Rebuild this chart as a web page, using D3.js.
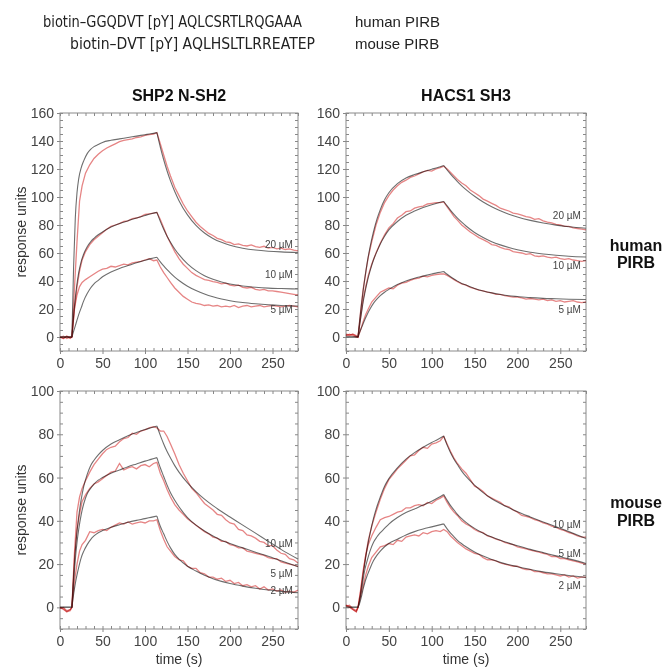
<!DOCTYPE html>
<html>
<head>
<meta charset="utf-8">
<script src="https://cdn.jsdelivr.net/npm/d3@7"></script>
<style>
  body { margin: 0; background: #fff; }
  svg { display: block; font-family: "Liberation Sans", Arial, sans-serif; }
</style>
</head>
<body>
<div id="chart"></div>
<script>
// sample times (s) for the fitted curves and for the measured traces
var fitTime = [0, 14, 16, 18, 20, 22, 25, 28, 32, 36, 40, 45, 50, 60, 70, 80, 90, 100, 107, 114,
  118, 122, 126, 130, 135, 140, 150, 160, 170, 180, 190, 200, 215, 230, 245, 260, 280];
var obsTime = [0, 4, 8, 12, 14, 17, 20, 23, 26, 30, 35, 40, 45, 50, 55, 60, 65, 70, 75, 80, 85, 90, 95,
  100, 105, 110, 114, 118, 122, 126, 130, 135, 140, 145, 150, 155, 160, 165, 170, 175, 180, 185, 190,
  195, 200, 205, 210, 215, 220, 225, 230, 235, 240, 245, 250, 255, 260, 265, 270, 275, 280];

// tick labels
var xTicks = [0, 50, 100, 150, 200, 250];
var yTicksTop = [0, 20, 40, 60, 80, 100, 120, 140, 160];
var yTicksBottom = [0, 20, 40, 60, 80, 100];

// SHP2 N-SH2 / human PIRB (20, 10, 5 uM)
var shp2HumanConc = ["20 µM", "10 µM", "5 µM"];
var shp2HumanLabelY = [66, 44.5, 20];
var shp2HumanFit20 = [0, 0, 50, 85, 103, 113, 121, 126, 131, 134, 136, 137.5, 139, 140.5, 141.5, 142.5, 143.5, 144.5, 145.2, 146,
  135.7, 126.6, 118.6, 111.5, 103.9, 97.4, 87.2, 79.7, 74.3, 70.4, 67.6, 65.5, 63.4, 62.1, 61.3, 60.8, 60.4];
var shp2HumanFit10 = [0, 0, 15, 28, 38, 46, 54, 59.5, 64.5, 68, 70.5, 73, 75, 78.5, 81, 83, 85, 86.8, 88, 89,
  82.6, 77, 72, 67.7, 62.9, 58.8, 52.2, 47.4, 43.8, 41.2, 39.3, 37.9, 36.4, 35.5, 34.9, 34.6, 34.3];
var shp2HumanFit5 = [0, 0, 4, 8, 12, 16, 21, 26, 31, 35, 38, 40.5, 43, 46.5, 49, 51, 53, 54.8, 56, 57,
  53.7, 50.8, 48.1, 45.6, 42.8, 40.4, 36.3, 33.2, 30.7, 28.7, 27.1, 25.9, 24.6, 23.7, 23, 22.5, 22.1];
var shp2HumanObs20 = [0, -1, 0.5, -1, 0, 35, 68, 97, 108, 117, 123, 127.5, 130.5, 133, 135, 136.5, 138, 139.5, 140.5, 141, 141.5,
  142.5, 143, 144, 144.5, 145, 146, 138, 130, 122, 115, 107, 101, 95, 90, 86, 82, 79, 76.5, 74, 72.5, 70.5, 69.5,
  68, 67.5, 66, 66.5, 65.5, 65, 65.8, 64.5, 64, 64.8, 63.5, 64, 63, 63.5, 62.5, 63, 62, 61.5];
var shp2HumanObs10 = [-0.5, 0.5, -1, 0, 0, 20, 36, 47, 55, 61, 66, 69.5, 72, 74.5, 77, 79, 80, 81, 82.5, 83, 84.5,
  85, 86, 87.5, 88, 88.5, 89, 84, 78, 72, 67, 61, 56, 52, 49, 46, 44, 42.5, 41, 40.5, 39.5, 39, 38,
  38.5, 37, 36.5, 37, 35.5, 35, 35.5, 34, 33.5, 34, 33, 33, 32.5, 32, 31.5, 31, 30.5, 30];
var shp2HumanObs5 = [0, -1, 0.5, -0.5, 0, 20, 30, 36, 39, 41, 43, 45, 47, 48.5, 49, 50.5, 50, 51, 52, 51.5, 53,
  53.5, 54, 55, 56, 54.5, 55, 50, 46, 42.5, 39, 35, 32, 29, 27, 25, 24, 23.5, 22.5, 23, 22, 22.5, 21.5,
  22, 21.5, 22.5, 21, 22, 22.5, 21.5, 22, 22.5, 21.5, 22, 22.5, 22, 21.5, 22, 22.5, 22, 21.5];

// HACS1 SH3 / human PIRB (20, 10, 5 uM)
var hacsHumanConc = ["20 µM", "10 µM", "5 µM"];
var hacsHumanLabelY = [86.8, 51, 20];
var hacsHumanFit20 = [0, 0, 12, 23, 33, 42, 54, 64, 75, 84, 91, 98, 103, 109.5, 113.5, 116, 118, 119.8, 121, 122.5,
  119.3, 116.4, 113.6, 111, 108, 105.3, 100.5, 96.4, 93, 90.2, 87.7, 85.7, 83.3, 81.4, 79.9, 78.8, 77.7];
var hacsHumanFit10 = [0, 0, 9, 17, 25, 31.5, 40, 47, 55, 61, 66.5, 72, 76.5, 82.5, 87, 90, 92.5, 94.5, 95.7, 96.8,
  93.6, 90.5, 87.6, 84.9, 82, 79.3, 74.7, 71.1, 68.1, 65.8, 63.9, 62.3, 60.5, 59.3, 58.4, 57.7, 57.1];
var hacsHumanFit5 = [0, 0, 3.5, 6.5, 9.5, 12.5, 16.5, 20, 24, 27, 29.5, 32, 34, 37.5, 40, 42, 43.5, 45, 46, 46.8,
  44.8, 43, 41.4, 39.9, 38.3, 37.1, 34.7, 32.9, 31.5, 30.4, 29.5, 28.9, 28.1, 27.6, 27.3, 27, 26.8];
var hacsHumanObs20 = [2, 1.5, 2, 1, 0, 18, 34, 46, 57, 68, 80, 89, 96, 101, 105, 108, 110.5, 112, 114, 115, 116.5,
  118, 119, 118.5, 120, 121, 122, 120, 117.5, 115, 112.5, 110, 108, 105, 103, 101, 98.5, 97, 95.5, 94, 92, 91, 90,
  88.5, 88, 87, 86, 85.5, 84, 84.5, 83, 82, 81.5, 80.5, 80, 79, 79, 78, 77.5, 77, 76.5];
var hacsHumanObs10 = [1.5, 1, 2, 0.5, 0, 14, 27, 36, 44, 52, 60, 67, 73, 78, 81, 85, 87, 89.5, 90, 92, 93,
  93.5, 95, 95.5, 96, 96, 96.5, 93, 89.5, 86, 83.5, 80, 77.5, 75, 73, 71, 69.5, 68, 66, 65.5, 64, 63, 62.5,
  61, 60.5, 60, 59, 59.5, 58, 57.5, 58, 57, 56.5, 57, 56, 55.5, 56, 55, 54.5, 54, 54.5];
var hacsHumanObs5 = [1, 2, 1, 0, 0, 5, 11, 16, 20, 25, 28.5, 32, 33.5, 35, 34.5, 37, 38.5, 39, 40.5, 41.5, 42,
  43.5, 43, 44, 44.5, 45, 45, 44, 42.5, 41, 39.5, 38, 37, 35.5, 34.5, 33.5, 33, 32, 31.5, 30.5, 30.5, 29.5, 29,
  28.5, 28.5, 28, 27, 27.5, 27, 26.5, 27, 26, 26.5, 25.5, 26, 25, 25.5, 26, 25, 24.5, 25];

// SHP2 N-SH2 / mouse PIRB (10, 5, 2 uM)
var shp2MouseConc = ["10 µM", "5 µM", "2 µM"];
var shp2MouseLabelY = [29.7, 15.8, 8];
var shp2MouseFit10 = [0, 0, 14, 26, 35, 42, 50, 56, 61.5, 65.5, 68, 70.5, 72.5, 75.5, 77.5, 79.3, 80.8, 82.2, 83, 83.8,
  79.5, 75.5, 72, 69, 65.5, 62.5, 57.5, 53.5, 50, 47, 44.3, 41.8, 38, 34.3, 30.5, 26.8, 22.3];
var shp2MouseFit5 = [0, 0, 12, 22, 30, 36, 43, 48, 52.5, 55, 57, 58.8, 60, 62, 63.5, 65, 66.3, 67.6, 68.4, 69.2,
  64.5, 60.5, 56.5, 53, 49.5, 46.5, 41.5, 38, 35.3, 33, 31, 29.5, 27.5, 25.5, 23.6, 21.5, 18.8];
var shp2MouseFit2 = [0, 0, 6, 11, 15, 18.5, 23, 26, 29, 31.3, 33, 34.5, 35.5, 37, 38.2, 39.3, 40.2, 41, 41.6, 42.2,
  37.5, 34, 30.5, 27.5, 24.5, 22.3, 19, 16.8, 14.8, 13.2, 12, 11, 9.8, 8.8, 8, 7.4, 6.8];
var shp2MouseObs10 = [0, -1, -2, -1, 0, 25, 44, 51, 55, 58.5, 62.5, 66, 68.5, 71, 73, 74, 74.5, 76.5, 78, 78.5, 80.5,
  80, 81.5, 82, 83, 83.5, 83, 81.5, 81.5, 79, 75.5, 71, 66, 62, 58.5, 55, 53, 50.5, 48, 46.5, 45, 43, 42.5,
  40.5, 39, 38.5, 36, 35.5, 33.5, 33, 32, 30.5, 30, 28.5, 28.5, 26.5, 25, 24.5, 22.5, 22, 20.5];
var shp2MouseObs5 = [-0.5, 0, -1.5, -1, 0, 22, 36, 43, 49, 52, 55, 57, 58, 59.5, 61, 62.5, 63, 66.5, 63.5, 64.5, 65,
  64, 65.5, 66, 65, 66.5, 67, 62, 58.5, 54.5, 51, 47.5, 45, 43, 41, 39.5, 38, 36.5, 35, 34, 32.5, 32, 30.5,
  30.5, 29, 28.5, 27.5, 27.5, 26, 25.5, 25, 24.5, 24, 23, 22.5, 22.5, 21, 20.5, 20, 19.5, 19];
var shp2MouseObs2 = [0, -0.5, -2, -1.5, 0, 12, 20, 26, 29, 31, 35, 34.5, 35.5, 36, 35.5, 37, 38, 39, 38.5, 39.5, 38.5,
  39, 39.5, 39, 40, 40, 40.5, 35.5, 31.5, 28, 26, 23.5, 22, 21.5, 19, 18, 18, 16, 15.5, 14, 14, 13, 13.5,
  12, 12.5, 11, 11.5, 10, 10.5, 9.5, 10, 8.5, 9.5, 8, 8.5, 7.5, 8, 7, 7.5, 7, 8];

// HACS1 SH3 / mouse PIRB (10, 5, 2 uM)
var hacsMouseConc = ["10 µM", "5 µM", "2 µM"];
var hacsMouseLabelY = [38.5, 25, 10.3];
var hacsMouseFit10 = [0, 0, 3.5, 9, 15, 20.5, 28, 34, 41, 46.5, 51, 56, 59.5, 64.5, 68.5, 71.5, 74, 76.2, 77.6, 79.2,
  75, 71.5, 68.5, 66, 63, 60.5, 56.5, 53, 50.2, 48, 46, 44.2, 41.8, 39.5, 37.3, 35, 31.8];
var hacsMouseFit5 = [0, 0, 3, 8, 13, 17.5, 22, 26, 30, 32.5, 34.5, 36.5, 38.5, 41.5, 43.8, 45.5, 47.3, 49, 50.5, 52.2,
  49.5, 47, 45, 43, 41, 39.3, 36.5, 34.3, 32.5, 31, 29.7, 28.5, 26.8, 25.3, 23.8, 22.4, 20.3];
var hacsMouseFit2 = [0, 0, 2, 5, 8.5, 11.5, 15, 18, 21.5, 24, 26, 28, 29.5, 31.5, 33.5, 35, 36.2, 37.2, 37.9, 38.6,
  36.3, 34.3, 32.6, 31, 29.4, 28, 25.6, 23.7, 22.1, 20.8, 19.7, 18.8, 17.5, 16.4, 15.5, 14.7, 13.8];
var hacsMouseObs10 = [1, 0, -1, -2, 0, 7, 16, 24, 31, 37.5, 44, 50, 55, 59, 61.5, 64, 66, 68, 70, 70.5, 72.5,
  74, 73.5, 75.5, 76, 77, 79, 75.5, 72, 69, 66.5, 64, 62, 59, 56, 55, 53.5, 51.5, 50.5, 49.5, 48.5, 47, 46.5,
  45, 44, 42.5, 42, 41.5, 40.5, 40, 39, 38.5, 37.5, 37, 36, 35.5, 34.5, 34, 33, 32.5, 32.5];
var hacsMouseObs5 = [0.5, 1, -0.5, -1.5, 0, 8, 17, 24, 29, 33, 37, 40.5, 41.5, 42, 43, 44, 44.5, 46, 46, 47, 47.5,
  47, 48.5, 48, 49.5, 50.5, 51.5, 48.5, 46, 44, 42.5, 40, 38.5, 37.5, 36, 35, 34.5, 33, 32.5, 31.5, 31, 30, 29.5,
  29, 28, 27.5, 27, 26.5, 26, 25.5, 25, 24.5, 23.5, 23.5, 22.5, 22.5, 22, 21.5, 21, 20.5, 20];
var hacsMouseObs2 = [1, 0.5, -1, -2, 0, 5, 10, 15, 19, 23, 25.5, 28, 28.5, 29.5, 29, 31, 30.5, 32.5, 33, 33.5, 33,
  34.5, 34, 35, 35.5, 35, 36, 35, 33, 31.5, 30, 28.5, 27, 26, 25, 24.5, 23, 22, 22, 21.5, 20.5, 20, 19.5,
  19, 19, 18, 17.5, 17.5, 16.5, 16.5, 16, 15.5, 15.5, 15, 14.5, 15, 14, 14.5, 13.5, 14, 14];

// panel table (layout + which series go where)
var panels = [
  { left: 60, top: 113, w: 238, h: 238, yDomain: [-10, 160], yTicks: yTicksTop, title: "SHP2 N-SH2",
    fits: [shp2HumanFit20, shp2HumanFit10, shp2HumanFit5], obs: [shp2HumanObs20, shp2HumanObs10, shp2HumanObs5],
    conc: shp2HumanConc, labelY: shp2HumanLabelY, ylabel: true, xlabel: false },
  { left: 346, top: 113, w: 240, h: 238, yDomain: [-10, 160], yTicks: yTicksTop, title: "HACS1 SH3",
    fits: [hacsHumanFit20, hacsHumanFit10, hacsHumanFit5], obs: [hacsHumanObs20, hacsHumanObs10, hacsHumanObs5],
    conc: hacsHumanConc, labelY: hacsHumanLabelY, ylabel: false, xlabel: false },
  { left: 60, top: 391, w: 238, h: 238, yDomain: [-10, 100], yTicks: yTicksBottom, title: null,
    fits: [shp2MouseFit10, shp2MouseFit5, shp2MouseFit2], obs: [shp2MouseObs10, shp2MouseObs5, shp2MouseObs2],
    conc: shp2MouseConc, labelY: shp2MouseLabelY, ylabel: true, xlabel: true },
  { left: 346, top: 391, w: 240, h: 238, yDomain: [-10, 100], yTicks: yTicksBottom, title: null,
    fits: [hacsMouseFit10, hacsMouseFit5, hacsMouseFit2], obs: [hacsMouseObs10, hacsMouseObs5, hacsMouseObs2],
    conc: hacsMouseConc, labelY: hacsMouseLabelY, ylabel: false, xlabel: true }
];

var svg = d3.select("#chart")
  .append("svg")
  .attr("width", 668)
  .attr("height", 671);

// peptide header
svg.append("text")
  .attr("x", 43).attr("y", 26.5)
  .attr("font-family", "DejaVu Sans")
  .attr("font-size", 16)
  .attr("fill", "#222")
  .attr("textLength", 259).attr("lengthAdjust", "spacingAndGlyphs")
  .text("biotin–GGQDVT [pY] AQLCSRTLRQGAAA");
svg.append("text")
  .attr("x", 70).attr("y", 48.5)
  .attr("font-family", "DejaVu Sans")
  .attr("font-size", 16)
  .attr("fill", "#222")
  .attr("textLength", 245).attr("lengthAdjust", "spacingAndGlyphs")
  .text("biotin–DVT [pY] AQLHSLTLRREATEP");
svg.append("text")
  .attr("x", 355).attr("y", 26.5)
  .attr("font-size", 15).attr("fill", "#222")
  .text("human PIRB");
svg.append("text")
  .attr("x", 355).attr("y", 48.5)
  .attr("font-size", 15).attr("fill", "#222")
  .text("mouse PIRB");

// row labels on the right
[["human", 251], ["PIRB", 268], ["mouse", 508], ["PIRB", 526]].forEach(function(r) {
  svg.append("text")
    .attr("x", 636).attr("y", r[1])
    .attr("text-anchor", "middle")
    .attr("font-size", 16).attr("font-weight", "bold").attr("fill", "#111")
    .text(r[0]);
});

// split a fit curve at injection start / end so the corners stay sharp
function fitPath(vals, x, y) {
  var pts = fitTime.map(function(t, i) { return [t, vals[i]]; });
  var line = d3.line()
    .x(function(d) { return x(d[0]); })
    .y(function(d) { return y(d[1]); })
    .curve(d3.curveMonotoneX);
  return [[0, 14], [14, 114], [114, 280]].map(function(c) {
    return line(pts.filter(function(p) { return p[0] >= c[0] && p[0] <= c[1]; }));
  }).join("");
}

panels.forEach(function(p) {
  var g = svg.append("g")
    .attr("transform", `translate(${p.left}, ${p.top})`);

  var x = d3.scaleLinear().domain([0, 280]).range([0, p.w]);
  var y = d3.scaleLinear().domain(p.yDomain).range([p.h, 0]);

  // minor ticks on all four sides, pointing in
  var xMinor = d3.range(0, 281, 10);
  var yMinor = d3.range(p.yDomain[0], p.yDomain[1] + 1, 5);
  g.append("g").attr("class", "ax").attr("transform", `translate(0, ${p.h})`)
    .call(d3.axisBottom(x).tickValues(xMinor).tickSize(-3).tickFormat(""));
  g.append("g").attr("class", "ax")
    .call(d3.axisTop(x).tickValues(xMinor).tickSize(-3).tickFormat(""));
  g.append("g").attr("class", "ax")
    .call(d3.axisLeft(y).tickValues(yMinor).tickSize(-3).tickFormat(""));
  g.append("g").attr("class", "ax").attr("transform", `translate(${p.w}, 0)`)
    .call(d3.axisRight(y).tickValues(yMinor).tickSize(-3).tickFormat(""));

  // labelled ticks
  g.append("g").attr("class", "ax lab").attr("transform", `translate(0, ${p.h})`)
    .call(d3.axisBottom(x).tickValues(xTicks).tickSize(3).tickPadding(4));
  g.append("g").attr("class", "ax lab")
    .call(d3.axisLeft(y).tickValues(p.yTicks).tickSize(3).tickPadding(3));

  g.selectAll(".ax .domain").remove();
  g.selectAll(".ax line").attr("stroke", "#888");
  g.selectAll(".lab text")
    .attr("font-family", "Liberation Sans, Arial, sans-serif")
    .attr("font-size", 14)
    .attr("fill", "#444");

  // frame
  g.append("rect")
    .attr("width", p.w).attr("height", p.h)
    .attr("fill", "none").attr("stroke", "#8a8a8a").attr("stroke-width", 1);

  // fitted curves
  p.fits.forEach(function(f) {
    g.append("path")
      .attr("d", fitPath(f, x, y))
      .attr("fill", "none")
      .attr("stroke", "#6e6e6e")
      .attr("stroke-width", 1.1);
  });

  // measured traces
  var obsLine = d3.line()
    .x(function(d, i) { return x(obsTime[i]); })
    .y(function(d) { return y(d); });
  p.obs.forEach(function(o) {
    g.append("path")
      .attr("d", obsLine(o))
      .attr("fill", "none")
      .attr("stroke", "#e68585")
      .attr("stroke-width", 1.3)
      .style("mix-blend-mode", "multiply");
  });

  // concentration labels
  p.conc.forEach(function(c, i) {
    g.append("text")
      .attr("x", x(274)).attr("y", y(p.labelY[i]))
      .attr("dy", "0.35em")
      .attr("text-anchor", "end")
      .attr("font-size", 10).attr("fill", "#444")
      .text(c);
  });

  if (p.title) {
    g.append("text")
      .attr("x", p.w / 2).attr("y", -12)
      .attr("text-anchor", "middle")
      .attr("font-size", 16).attr("font-weight", "bold").attr("fill", "#111")
      .text(p.title);
  }
  if (p.ylabel) {
    g.append("text")
      .attr("transform", "rotate(-90)")
      .attr("x", -p.h / 2).attr("y", -34)
      .attr("text-anchor", "middle")
      .attr("font-size", 14).attr("fill", "#333")
      .text("response units");
  }
  if (p.xlabel) {
    g.append("text")
      .attr("x", p.w / 2).attr("y", p.h + 35)
      .attr("text-anchor", "middle")
      .attr("font-size", 14).attr("fill", "#333")
      .text("time (s)");
  }
});
</script>
</body>
</html>
